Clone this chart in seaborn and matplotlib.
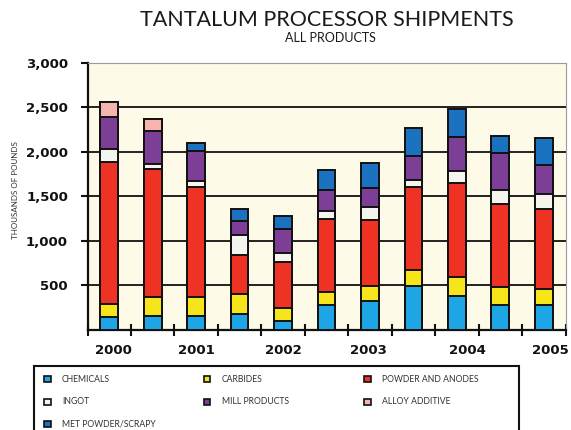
import matplotlib
matplotlib.use("Agg")
import matplotlib.pyplot as plt
from matplotlib.patches import Rectangle
import numpy as np
import pandas as pd
import seaborn as sns

# Half-year shipment periods, 2000 H1 .. 2005 H1 (thousands of pounds)
periods = ["2000 H1", "2000 H2", "2001 H1", "2001 H2", "2002 H1", "2002 H2",
           "2003 H1", "2003 H2", "2004 H1", "2004 H2", "2005 H1"]
chemicals = [145, 160, 160, 180, 100, 275, 325, 495, 380, 275, 275]
carbides = [150, 205, 205, 225, 145, 150, 165, 180, 215, 205, 190]
powder_anodes = [1590, 1440, 1235, 440, 520, 815, 745, 930, 1050, 930, 890]
ingot = [140, 55, 70, 220, 95, 100, 140, 75, 135, 160, 165]
mill_products = [365, 375, 340, 160, 270, 225, 220, 270, 380, 420, 325]
alloy_additive = [170, 130, 0, 0, 0, 0, 0, 0, 0, 0, 0]
met_powder_scrap = [0, 0, 85, 130, 145, 225, 275, 315, 315, 185, 310]

year_labels = ["2000", "2001", "2002", "2003", "2004", "2005"]
y_ticks = [500, 1000, 1500, 2000, 2500, 3000]

# stacking order, bottom to top
series = [
    ("CHEMICALS", chemicals, "#1ea5e6"),
    ("CARBIDES", carbides, "#f7e51b"),
    ("POWDER AND ANODES", powder_anodes, "#ee3224"),
    ("INGOT", ingot, "#f5f5ef"),
    ("MILL PRODUCTS", mill_products, "#7d3f96"),
    ("ALLOY ADDITIVE", alloy_additive, "#f5b4ae"),
    ("MET POWDER/SCRAPY", met_powder_scrap, "#1b72c0"),
]

rows = []
running = np.zeros(len(periods))
for name, vals, _ in series:
    running = running + np.array(vals, dtype=float)
    for p, c in zip(periods, running):
        rows.append({"period": p, "series": name, "top": c})
df = pd.DataFrame(rows)

plt.rcParams["font.family"] = ["DejaVu Sans"]
fig = plt.figure(figsize=(5.71, 4.30), dpi=100, facecolor="white")
ax = fig.add_axes([87.5 / 571, 1 - 330 / 430, (565.5 - 87.5) / 571, (330 - 62.5) / 430])
ax.set_facecolor("#fdfae8")

# draw cumulative bars from the top layer down so each lower layer overlays
for name, _, color in reversed(series):
    sub = df[df["series"] == name]
    sns.barplot(data=sub, x="period", y="top", order=periods, color=color,
                edgecolor="#111111", linewidth=1.4, width=0.41,
                errorbar=None, saturation=1, ax=ax, zorder=3)

ax.set_xlim(-0.5, len(periods) - 0.5)
ax.set_ylim(0, 3000)
ax.set_xlabel("")
ax.set_ylabel("THOUSANDS OF POUNDS", fontsize=5.8, color="#333333",
              family="Lato")
ax.yaxis.set_label_coords(-0.143, 0.523)

# horizontal grid
ax.set_yticks(y_ticks)
ax.set_yticklabels([f"{v:,}" for v in y_ticks], fontsize=9.5,
                   fontweight="bold", color="#111111")
ax.tick_params(axis="y", length=5, width=1.5, pad=9, color="#111111")
for v in y_ticks[:-1]:
    ax.axhline(v, color="#111111", lw=1.3, zorder=1)

# x ticks at slot boundaries, year labels as minor ticks
bounds = np.arange(-0.5, len(periods), 1.0)
ax.set_xticks(bounds)
ax.set_xticklabels([""] * len(bounds))
ax.tick_params(axis="x", which="major", direction="inout", length=8,
               width=1.5, color="#111111")
label_pos = [0.1, 2.0, 4.0, 5.97, 8.25, 10.15]
ax.set_xticks(label_pos, minor=True)
ax.set_xticklabels(year_labels, minor=True, fontsize=9.5, fontweight="bold",
                   color="#111111")
ax.tick_params(axis="x", which="minor", length=0, pad=10)

for s in ["left", "bottom"]:
    ax.spines[s].set_color("#111111")
    ax.spines[s].set_linewidth(1.6)
ax.spines["right"].set_color("#9a9a9a")
ax.spines["right"].set_linewidth(0.8)
ax.spines["top"].set_color("#9a9a9a")
ax.spines["top"].set_linewidth(0.8)
ax.spines["top"].set_linestyle((0, (1, 1)))

# titles
fig.text(327 / 571, 1 - 20 / 430, "TANTALUM PROCESSOR SHIPMENTS", ha="center",
         va="center", fontsize=15.5, family="Lato", color="#1a1a1a")
fig.text(330 / 571, 1 - 38 / 430, "ALL PRODUCTS", ha="center", va="center",
         fontsize=9, family="Lato", color="#1a1a1a")

# legend box, running off the bottom edge
fig.patches.append(Rectangle((34 / 571, -0.05), (519 - 34) / 571,
                             (1 - 365.5 / 430) + 0.05,
                             transform=fig.transFigure, fill=False,
                             edgecolor="#111111", lw=1.5))
legend_layout = [
    ("CHEMICALS", 0, 0), ("CARBIDES", 1, 0), ("POWDER AND ANODES", 2, 0),
    ("INGOT", 0, 1), ("MILL PRODUCTS", 1, 1), ("ALLOY ADDITIVE", 2, 1),
    ("MET POWDER/SCRAPY", 0, 2),
]
colors = {n: c for n, _, c in series}
col_x = [44, 204, 364]
row_y = [379, 402, 424]
sq = 6.5
for name, cx, ry in legend_layout:
    x0 = col_x[cx]
    y0 = row_y[ry]
    fig.patches.append(Rectangle((x0 / 571, 1 - (y0 + sq / 2) / 430), sq / 571,
                                 sq / 430, transform=fig.transFigure,
                                 facecolor=colors[name], edgecolor="#111111",
                                 lw=1.2))
    fig.text((x0 + 18) / 571, 1 - y0 / 430, name, ha="left", va="center",
             fontsize=6.2, family="Lato", color="#333333")

fig.savefig("out.png", dpi=100, facecolor="white")
